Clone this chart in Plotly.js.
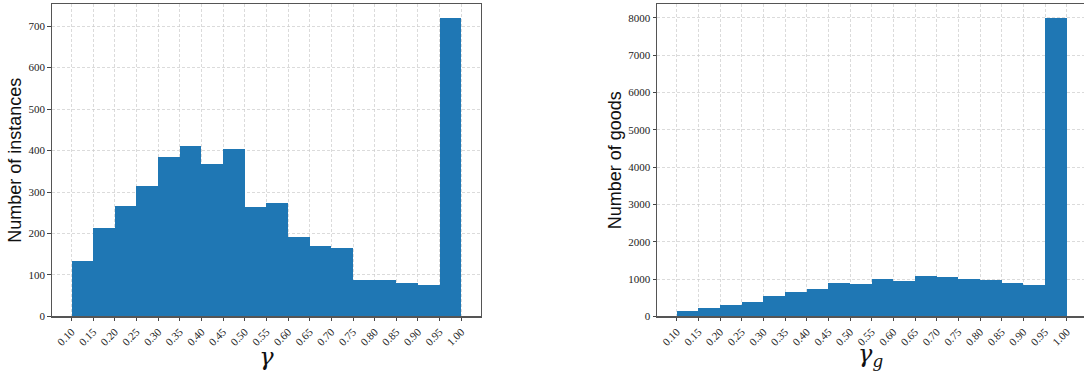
<!DOCTYPE html>
<html><head><meta charset="utf-8">
<script src="https://cdn.plot.ly/plotly-3.0.1.min.js"></script>
<style>html,body{margin:0;padding:0;background:#fff}#chart{width:1084px;height:371px}</style>
</head><body><div id="chart"></div>
<script>
const binEdges = [0.10,0.15,0.20,0.25,0.30,0.35,0.40,0.45,0.50,0.55,0.60,0.65,0.70,0.75,0.80,0.85,0.90,0.95,1.00];
const tickLabels = ["0.10","0.15","0.20","0.25","0.30","0.35","0.40","0.45","0.50","0.55","0.60","0.65","0.70","0.75","0.80","0.85","0.90","0.95","1.00"];
const instanceCounts = [134,213,266,315,384,411,368,404,264,274,192,170,164,88,88,81,76,719];
const goodsCounts = [151,232,312,392,552,659,739,900,873,1007,953,1087,1060,1007,980,900,846,7991];
const instanceTicks = [0,100,200,300,400,500,600,700];
const goodsTicks = [0,1000,2000,3000,4000,5000,6000,7000,8000];

const lefts = binEdges.slice(0,-1);
const widths = lefts.map((v,i)=>binEdges[i+1]-v);
const barColor = '#1f77b4';

const traces = [
  {type:'bar', x:lefts, y:instanceCounts, width:widths, offset:0, marker:{color:barColor, line:{width:0}}, xaxis:'x', yaxis:'y', hoverinfo:'x+y'},
  {type:'bar', x:lefts, y:goodsCounts, width:widths, offset:0, marker:{color:barColor, line:{width:0}}, xaxis:'x2', yaxis:'y2', hoverinfo:'x+y'}
];

const tickFont = {family:'Liberation Serif, DejaVu Serif, serif', size:11, color:'#222'};
function xax(domain, range, anchor, titleHtml){
  return {domain:domain, range:range, anchor:anchor, tickmode:'array', tickvals:binEdges, ticktext:tickLabels,
    tickangle:-45, ticks:'outside', ticklen:3.5, tickwidth:1, tickcolor:'#444', tickfont:tickFont,
    showgrid:true, gridcolor:'#cccccc', gridwidth:0.7, griddash:'3px,2px', zeroline:false,
    showline:true, mirror:true, linecolor:'#555', linewidth:1.3, automargin:false,
    title:{text:titleHtml, font:{family:'DejaVu Serif, Liberation Serif, serif', size:24, color:'#111'}, standoff:3}};
}
function yax(domain, range, anchor, vals, titleText, mirror){
  return {domain:domain, range:range, anchor:anchor, tickmode:'array', tickvals:vals, ticktext:vals.map(String),
    ticks:'outside', ticklen:3.5, tickwidth:1, tickcolor:'#444', tickfont:tickFont,
    showgrid:true, gridcolor:'#cccccc', gridwidth:0.7, griddash:'3px,2px', zeroline:false,
    showline:true, mirror:mirror, linecolor:'#555', linewidth:1.3, automargin:false,
    title:{text:titleText, font:{family:'Liberation Sans, Arial, sans-serif', size:18, color:'#111'}, standoff:2}};
}

const layout = {
  width:1084, height:371, margin:{l:0,r:0,t:0,b:0}, showlegend:false,
  paper_bgcolor:'#fff', plot_bgcolor:'#fff', bargap:0,
  xaxis: xax([0.048,0.4435],[0.055,1.045],'y','<i>γ</i>'),
  yaxis: yax([0.147,0.989],[0,753],'x',instanceTicks,'Number of instances',true),
  xaxis2: xax([0.6064,1],[0.0552,1.04],'y2','<i>γ<sub>g</sub></i>'),
  yaxis2: yax([0.147,0.989],[0,8370],'x2',goodsTicks,'Number of goods',false)
};

Plotly.newPlot('chart', traces, layout, {displayModeBar:false, staticPlot:true});
</script></body></html>
